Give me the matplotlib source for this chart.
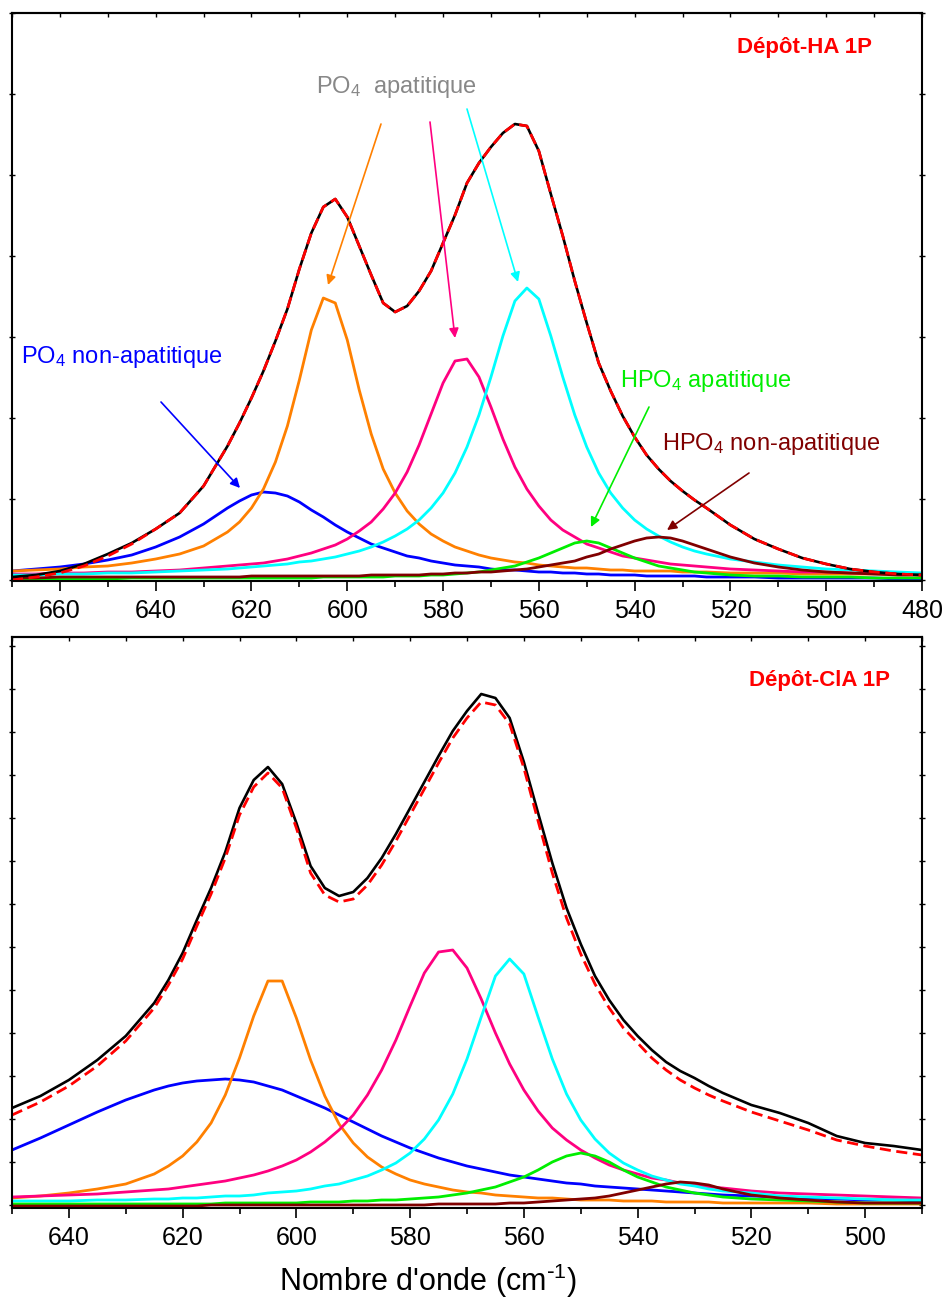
import numpy as np
import matplotlib
matplotlib.use("Agg")
import matplotlib.pyplot as plt

plt.rcParams['font.family'] = ['Liberation Sans', 'DejaVu Sans']
plt.rcParams['mathtext.default'] = 'regular'
plt.rcParams['axes.unicode_minus'] = False

# wavenumbers (cm-1) and band intensities (arbitrary units)
wn_top = [670, 665, 660, 655, 650, 645, 640, 635, 630, 625,
          622.5, 620, 617.5, 615, 612.5, 610, 607.5, 605, 602.5, 600,
          597.5, 595, 592.5, 590, 587.5, 585, 582.5, 580, 577.5, 575,
          572.5, 570, 567.5, 565, 562.5, 560, 557.5, 555, 552.5, 550,
          547.5, 545, 542.5, 540, 537.5, 535, 532.5, 530, 527.5,
          525, 520, 515, 510, 505, 500, 495, 490, 485, 480]
top_exp = [4, 6, 10, 17, 27, 38, 52, 68, 95, 135,
           158, 183, 210, 240, 272, 312, 348, 374, 382, 364,
           335, 306, 278, 269, 275, 290, 310, 338, 366, 398,
           418, 434, 448, 457, 455, 430, 387, 345, 300, 258,
           218, 190, 165, 144, 126, 112, 100, 90, 81,
           73, 56, 42, 32, 23, 17, 12, 9, 7, 6]
top_fit = [1, 4, 8, 15, 25, 37, 52, 68, 95, 135,
           158, 183, 210, 240, 272, 312, 348, 374, 382, 364,
           335, 306, 278, 269, 275, 290, 310, 338, 366, 398,
           418, 434, 448, 457, 455, 430, 387, 345, 300, 258,
           218, 190, 165, 144, 126, 112, 100, 90, 81,
           73, 56, 42, 32, 23, 17, 12, 9, 7, 6]
top_po4_nonap = [10, 12, 14, 17, 21, 26, 34, 44, 57, 73,
                 80, 86, 89, 88, 85, 79, 71, 64, 56, 49,
                 43, 37, 33, 29, 25, 23, 20, 18, 16, 15,
                 14, 12, 11, 11, 10, 9, 9, 8, 8, 7,
                 7, 6, 6, 6, 5, 5, 5, 5, 5,
                 4, 4, 4, 3, 3, 3, 3, 3, 2, 2]
top_po4_a1 = [10, 11, 12, 14, 15, 18, 22, 27, 35, 49,
              59, 73, 92, 119, 155, 201, 251, 283, 278, 241,
              191, 147, 112, 88, 70, 57, 47, 40, 34, 30,
              26, 23, 21, 19, 18, 16, 15, 14, 13, 13,
              12, 11, 11, 10, 10, 10, 10, 9, 9,
              9, 8, 8, 8, 7, 7, 7, 7, 7, 6]
top_po4_a2 = [7, 7, 8, 8, 9, 9, 10, 11, 13, 15,
              16, 17, 18, 20, 22, 25, 28, 32, 36, 42,
              50, 59, 72, 88, 109, 136, 167, 198, 220, 222,
              204, 174, 142, 114, 92, 75, 61, 51, 44, 37,
              33, 29, 25, 23, 21, 19, 17, 16, 15,
              14, 12, 11, 10, 9, 9, 8, 8, 7, 7]
top_po4_a3 = [6, 6, 7, 7, 8, 8, 9, 10, 11, 12,
              13, 14, 15, 16, 17, 19, 20, 22, 24, 27,
              30, 34, 39, 45, 52, 61, 73, 88, 108, 134,
              166, 204, 245, 280, 293, 282, 245, 204, 166, 134,
              108, 88, 73, 61, 52, 45, 39, 34, 30,
              27, 22, 19, 16, 14, 12, 11, 10, 9, 8]
top_hpo4_ap = [2, 2, 2, 2, 2, 3, 3, 3, 3, 3,
               3, 3, 3, 3, 3, 3, 3, 4, 4, 4,
               4, 4, 4, 5, 5, 5, 6, 6, 7, 8,
               9, 11, 13, 15, 19, 23, 28, 33, 38, 40,
               38, 33, 28, 23, 19, 15, 13, 11, 9,
               8, 6, 5, 5, 4, 4, 4, 3, 3, 3]
top_hpo4_nonap = [3, 3, 4, 4, 4, 4, 4, 4, 4, 4,
                  4, 5, 5, 5, 5, 5, 5, 5, 5, 5,
                  5, 6, 6, 6, 6, 6, 7, 7, 8, 8,
                  9, 9, 10, 11, 12, 14, 16, 18, 20, 24,
                  27, 32, 36, 40, 43, 44, 43, 40, 36,
                  32, 24, 18, 14, 11, 9, 8, 7, 6, 6]

wn_bot = [650, 645, 640, 635, 630, 625,
          622.5, 620, 617.5, 615, 612.5, 610, 607.5, 605, 602.5, 600,
          597.5, 595, 592.5, 590, 587.5, 585, 582.5, 580, 577.5, 575,
          572.5, 570, 567.5, 565, 562.5, 560, 557.5, 555, 552.5, 550,
          547.5, 545, 542.5, 540, 537.5, 535, 532.5, 530, 527.5,
          525, 520, 515, 510, 505, 500, 495, 490]
bot_exp = [100, 112, 128, 148, 172, 205,
           228, 255, 288, 320, 356, 400, 428, 441, 424, 385,
           342, 320, 312, 316, 330, 350, 374, 400, 426, 452,
           477, 497, 514, 510, 490, 446, 395, 345, 300, 264,
           232, 208, 188, 172, 158, 146, 137, 130, 122,
           115, 103, 95, 85, 72, 65, 62, 58]
bot_fit = [93, 106, 122, 142, 167, 200,
           223, 249, 282, 314, 350, 393, 421, 435, 420, 380,
           335, 313, 306, 309, 323, 343, 367, 393, 419, 445,
           470, 490, 506, 503, 484, 440, 387, 335, 290, 254,
           224, 200, 180, 165, 150, 138, 128, 120, 113,
           107, 96, 87, 78, 68, 62, 57, 53]
bot_po4_nonap = [58, 70, 83, 96, 108, 118,
                 122, 125, 127, 128, 129, 128, 126, 122, 118, 112,
                 106, 100, 93, 86, 79, 72, 66, 60, 55, 50,
                 46, 42, 39, 36, 33, 31, 29, 27, 25, 24,
                 22, 21, 20, 19, 18, 17, 16, 15, 14,
                 13, 12, 11, 10, 9, 8, 8, 7]
bot_po4_a1 = [10, 12, 15, 19, 24, 34,
              42, 52, 66, 85, 113, 150, 192, 227, 227, 190,
              148, 112, 84, 65, 51, 41, 34, 28, 24, 21,
              18, 16, 15, 13, 12, 11, 10, 10, 9, 8,
              8, 8, 7, 7, 7, 6, 6, 6, 6,
              5, 5, 5, 5, 4, 4, 4, 4]
bot_po4_a2 = [11, 12, 13, 14, 16, 18,
              19, 21, 23, 25, 27, 30, 33, 37, 42, 48,
              56, 66, 78, 93, 113, 138, 168, 202, 235, 256,
              258, 240, 209, 175, 144, 118, 97, 80, 68, 58,
              50, 43, 38, 34, 30, 28, 25, 23, 21,
              20, 17, 15, 14, 13, 12, 11, 10]
bot_po4_a3 = [7, 7, 7, 8, 8, 9,
              9, 10, 10, 11, 12, 12, 13, 15, 16, 17,
              19, 22, 24, 28, 32, 38, 45, 55, 69, 88,
              114, 149, 191, 232, 249, 234, 191, 149, 114, 88,
              69, 55, 45, 38, 32, 28, 24, 22, 19,
              17, 15, 12, 11, 10, 9, 8, 8]
bot_hpo4_ap = [4, 4, 4, 4, 4, 4,
               4, 4, 4, 4, 5, 5, 5, 5, 5, 5,
               6, 6, 6, 7, 7, 8, 8, 9, 10, 11,
               13, 15, 18, 21, 26, 31, 38, 46, 52, 55,
               52, 46, 38, 31, 26, 21, 18, 15, 13,
               11, 9, 8, 7, 6, 5, 5, 5]
bot_hpo4_nonap = [2, 2, 2, 2, 2, 2,
                  2, 2, 2, 3, 3, 3, 3, 3, 3, 3,
                  3, 3, 3, 3, 3, 3, 3, 3, 3, 4,
                  4, 4, 4, 4, 5, 5, 6, 7, 8, 9,
                  10, 12, 15, 18, 21, 24, 26, 25, 23,
                  19, 13, 10, 8, 6, 5, 5, 5]

BLUE = '#0000ff'
ORANGE = '#ff8000'
PINK = '#ff0080'
CYAN = '#00ffff'
GREEN = '#00ee00'
BROWN = '#800000'

W, H = 946, 1300
fig = plt.figure(figsize=(W / 100, H / 100), dpi=100)


def fp(x, y):
    # pixel position -> figure fraction
    return (x / W, 1 - y / H)


def make_axes(left, top, right, bottom):
    return fig.add_axes([left / W, 1 - bottom / H, (right - left) / W, (bottom - top) / H])


def draw_panel(ax, wn, comps, exp, fit):
    for y, c in comps:
        ax.plot(wn, y, color=c, lw=2.0, solid_joinstyle='round')
    ax.plot(wn, exp, color='black', lw=1.9)
    ax.plot(wn, fit, color='red', lw=2.0, ls=(0, (4, 2)))


def style(ax, xlim, ymax, major, minor, ytick_step, ytick0):
    ax.set_xlim(*xlim)
    ax.set_ylim(0, ymax)
    ax.set_xticks(major)
    ax.set_xticks(minor, minor=True)
    ax.set_yticks(np.arange(ytick0, ymax + 1, ytick_step))
    ax.tick_params(axis='x', which='major', direction='out', length=7, width=1.2,
                   labelsize=18, pad=6)
    ax.tick_params(axis='x', which='minor', direction='out', length=4, width=1.2)
    ax.tick_params(axis='y', which='major', direction='inout', length=4, width=1,
                   left=True, right=True, labelleft=False)
    for s in ax.spines.values():
        s.set_linewidth(1.5)
    sec = ax.secondary_xaxis('top')
    sec.set_xticks(minor)
    sec.tick_params(direction='in', length=3, width=1, labeltop=False)
    sec.spines['top'].set_linewidth(1.5)


# ---- top panel: Dépôt-HA 1P
ax1 = make_axes(12, 13, 922, 581)
draw_panel(ax1, wn_top,
           [(top_po4_nonap, BLUE), (top_po4_a1, ORANGE), (top_po4_a2, PINK),
            (top_po4_a3, CYAN), (top_hpo4_ap, GREEN), (top_hpo4_nonap, BROWN)],
           top_exp, top_fit)
style(ax1, (670, 480), 568, np.arange(660, 479, -20), np.arange(670, 479, -10), 81, 1)

# ---- bottom panel: Dépôt-ClA 1P
ax2 = make_axes(12, 637, 922, 1208)
draw_panel(ax2, wn_bot,
           [(bot_po4_nonap, BLUE), (bot_po4_a1, ORANGE), (bot_po4_a2, PINK),
            (bot_po4_a3, CYAN), (bot_hpo4_ap, GREEN), (bot_hpo4_nonap, BROWN)],
           bot_exp, bot_fit)
style(ax2, (650, 490), 571, np.arange(640, 489, -20), np.arange(650, 489, -10), 43, 3)

# sample names
fig.text(*fp(872, 53), 'Dépôt-HA 1P', color='red', fontsize=16, fontweight='bold',
         ha='right', va='baseline')
fig.text(*fp(890, 686), 'Dépôt-ClA 1P', color='red', fontsize=16, fontweight='bold',
         ha='right', va='baseline')

# band annotations
fig.text(*fp(316, 93), 'PO$_4$  apatitique', color='#888888', fontsize=17, va='baseline')
fig.text(*fp(21, 363), 'PO$_4$ non-apatitique', color=BLUE, fontsize=17, va='baseline')
fig.text(*fp(620, 387), 'HPO$_4$ apatitique', color=GREEN, fontsize=17, va='baseline')
fig.text(*fp(662, 450), 'HPO$_4$ non-apatitique', color=BROWN, fontsize=17, va='baseline')

arrows = [((161, 402), (240, 488), BLUE),
          ((381, 124), (328, 285), ORANGE),
          ((430, 122), (455, 338), PINK),
          ((467, 109), (518, 282), CYAN),
          ((649, 407), (591, 527), GREEN),
          ((749, 473), (667, 530), BROWN)]
for start, end, c in arrows:
    ax1.annotate('', xy=fp(*end), xycoords='figure fraction',
                 xytext=fp(*start), textcoords='figure fraction',
                 arrowprops=dict(arrowstyle='-|>', color=c, lw=1.2,
                                 mutation_scale=14, shrinkA=0, shrinkB=0))

fig.text(*fp(428, 1281), "Nombre d'onde (cm$^{\\text{-}1}$)", fontsize=22,
         ha='center', va='center')

fig.savefig('out.png', dpi=100)
